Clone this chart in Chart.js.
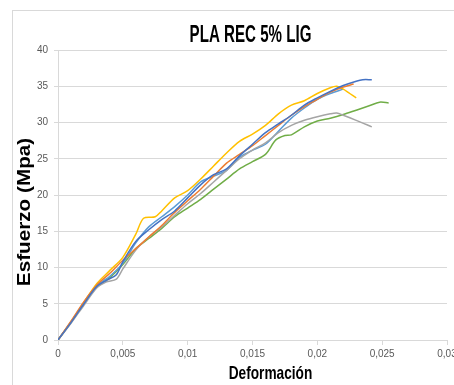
<!DOCTYPE html>
<html>
<head>
<meta charset="utf-8">
<script src="https://cdn.jsdelivr.net/npm/chart.js@4/dist/chart.umd.min.js"></script>
<style>
  html, body { margin: 0; padding: 0; background: #fff; overflow: hidden; }
  #wrap { position: relative; width: 454px; height: 385px; }
</style>
</head>
<body>
<div id="wrap"><canvas id="chart" width="454" height="385"></canvas></div>
<script>
// Tensile curves, PLA recycled + 5% lignin (strain vs stress in MPa)
const chartTitle = 'PLA REC 5% LIG';
const xTitle = 'Deformación';
const yTitle = 'Esfuerzo (Mpa)';

const xTicks = [0, 0.005, 0.01, 0.015, 0.02, 0.025, 0.03];
const xTickLabels = ['0', '0,005', '0,01', '0,015', '0,02', '0,025', '0,03'];

const blueStrain = [0, 0.001, 0.002, 0.003, 0.0038, 0.0045, 0.005, 0.006, 0.007, 0.008, 0.009, 0.01, 0.011, 0.012, 0.013, 0.014, 0.015, 0.016, 0.017, 0.018, 0.019, 0.02, 0.021, 0.022, 0.023, 0.0235, 0.0242];
const blueStress = [0, 2.4, 5, 7.4, 8.3, 9, 10.8, 13.6, 15.2, 16.6, 17.8, 19.6, 21.4, 22.8, 23.6, 25.4, 27, 28.6, 29.8, 31, 32.4, 33.4, 34.3, 35.1, 35.7, 35.9, 35.9];

const orangeStrain = [0, 0.001, 0.002, 0.003, 0.004, 0.005, 0.006, 0.007, 0.008, 0.009, 0.01, 0.011, 0.012, 0.013, 0.014, 0.015, 0.016, 0.017, 0.018, 0.019, 0.02, 0.021, 0.022, 0.0228];
const orangeStress = [0, 2.6, 5.3, 7.6, 9.2, 11, 12.6, 14.2, 15.8, 17.6, 19.2, 20.8, 22.6, 24.4, 25.6, 26.8, 28.2, 29.6, 31, 32.2, 33.2, 34.2, 34.9, 35.3];

const grayStrain = [0, 0.001, 0.002, 0.003, 0.0037, 0.0045, 0.005, 0.006, 0.007, 0.008, 0.009, 0.01, 0.011, 0.012, 0.013, 0.014, 0.015, 0.016, 0.017, 0.018, 0.019, 0.02, 0.021, 0.0215, 0.022, 0.023, 0.0242];
const grayStress = [0, 2.3, 4.8, 7.2, 8, 8.4, 9.8, 12.4, 14.2, 15.6, 17.2, 18.8, 20.2, 21.8, 23.4, 25, 26.2, 27.2, 28.6, 29.6, 30.3, 30.8, 31.2, 31.3, 31, 30.3, 29.4];

const yellowStrain = [0, 0.001, 0.002, 0.003, 0.004, 0.005, 0.006, 0.0066, 0.0075, 0.008, 0.009, 0.01, 0.011, 0.012, 0.013, 0.014, 0.015, 0.016, 0.017, 0.018, 0.019, 0.02, 0.021, 0.0215, 0.022, 0.0225, 0.023];
const yellowStress = [0, 2.5, 5.2, 7.8, 9.6, 11.4, 14.6, 16.8, 17, 17.8, 19.6, 20.6, 22.2, 24, 25.8, 27.4, 28.4, 29.6, 31.2, 32.4, 33, 34, 34.8, 35, 34.6, 34, 33.4];

const lightBlueStrain = [0, 0.001, 0.002, 0.003, 0.004, 0.005, 0.006, 0.007, 0.008, 0.009, 0.01, 0.011, 0.012, 0.013, 0.014, 0.015, 0.016, 0.017, 0.018, 0.019, 0.02, 0.021, 0.022];
const lightBlueStress = [0, 2.5, 5, 7.5, 8.8, 10.6, 13.4, 15.6, 17, 18.4, 20, 21.8, 22.6, 23.4, 25.2, 26.2, 27, 28.8, 30.6, 32, 33.2, 34, 34.6];

const greenStrain = [0, 0.001, 0.002, 0.003, 0.004, 0.005, 0.006, 0.007, 0.008, 0.009, 0.01, 0.011, 0.012, 0.013, 0.014, 0.015, 0.016, 0.0168, 0.0175, 0.018, 0.019, 0.02, 0.021, 0.022, 0.023, 0.024, 0.0248, 0.0255];
const greenStress = [0, 2.4, 5, 7.3, 8.6, 10.4, 12.6, 14, 15.4, 17, 18.2, 19.4, 20.8, 22.2, 23.6, 24.6, 25.6, 27.6, 28.2, 28.3, 29.4, 30.2, 30.6, 31.1, 31.7, 32.3, 32.8, 32.7];

// Pair up strain/stress arrays into {x, y} points
function toPoints(xs, ys) {
    return xs.map((x, i) => ({ x: x, y: ys[i] }));
}

function curve(xs, ys, color) {
    return {
        data: toPoints(xs, ys),
        borderColor: color,
        backgroundColor: color,
        borderWidth: 1.5,
        pointRadius: 0,
        showLine: true,
        tension: 0.3
    };
}

// Light frame around the chart
const framePlugin = {
    id: 'frame',
    beforeDraw(chart) {
        const ctx = chart.ctx;
        ctx.save();
        ctx.strokeStyle = '#d9d9d9';
        ctx.lineWidth = 1;
        ctx.strokeRect(12.5, 10.5, 600, 600);
        ctx.restore();
    }
};

// Condensed bold titles (no narrow font available, so squeeze Arial horizontally)
function squeezedText(ctx, text, x, y, size, squeeze, angle) {
    ctx.save();
    ctx.translate(x, y);
    if (angle) ctx.rotate(angle);
    ctx.scale(squeeze, 1);
    ctx.font = 'bold ' + size + 'px "Liberation Sans", Arial, sans-serif';
    ctx.fillStyle = '#000';
    ctx.textAlign = 'center';
    ctx.textBaseline = 'middle';
    ctx.fillText(text, 0, 0);
    ctx.restore();
}

const titlesPlugin = {
    id: 'titles',
    afterDraw(chart) {
        const ctx = chart.ctx;
        const area = chart.chartArea;
        const midX = (area.left + area.right) / 2;
        const midY = (area.top + area.bottom) / 2;
        squeezedText(ctx, chartTitle, midX - 2, 35, 24, 0.63, 0);
        squeezedText(ctx, xTitle, midX + 18, 374, 19, 0.72, 0);
        squeezedText(ctx, yTitle, 25, midY + 17, 18, 1.15, -Math.PI / 2);
    }
};

const narrow = '"Liberation Sans", Arial, sans-serif';

new Chart(document.getElementById('chart'), {
    type: 'scatter',
    data: {
        datasets: [
            curve(blueStrain, blueStress, '#4472C4'),
            curve(orangeStrain, orangeStress, '#ED7D31'),
            curve(grayStrain, grayStress, '#A5A5A5'),
            curve(yellowStrain, yellowStress, '#FFC000'),
            curve(lightBlueStrain, lightBlueStress, '#5B9BD5'),
            curve(greenStrain, greenStress, '#70AD47')
        ]
    },
    plugins: [framePlugin, titlesPlugin],
    options: {
        responsive: false,
        animation: false,
        layout: { padding: { left: 0, right: 7, top: 50, bottom: 0 } },
        plugins: {
            legend: { display: false },
            tooltip: { enabled: false }
        },
        scales: {
            x: {
                type: 'linear',
                min: 0,
                max: 0.03,
                afterBuildTicks(scale) {
                    scale.ticks = xTicks.map(v => ({ value: v }));
                },
                afterFit(scale) {
                    scale.height = 45;
                    scale.paddingLeft = 0;
                    scale.paddingRight = 0;
                },
                ticks: {
                    autoSkip: false,
                    maxRotation: 0,
                    padding: 3,
                    color: '#595959',
                    font: { family: narrow, size: 10 },
                    callback: (value) => xTickLabels[xTicks.indexOf(value)] ?? ''
                },
                grid: {
                    drawOnChartArea: false,
                    color: '#d9d9d9',
                    tickLength: 5
                },
                border: { color: '#d9d9d9' }
            },
            y: {
                min: 0,
                max: 40,
                afterFit(scale) {
                    scale.width = 58;
                    scale.paddingTop = 0;
                    scale.paddingBottom = 0;
                },
                ticks: {
                    stepSize: 5,
                    padding: 6,
                    color: '#595959',
                    font: { family: narrow, size: 10 }
                },
                grid: {
                    color: '#d9d9d9',
                    tickLength: 4
                },
                border: { color: '#d9d9d9' }
            }
        }
    }
});
</script>
</body>
</html>
